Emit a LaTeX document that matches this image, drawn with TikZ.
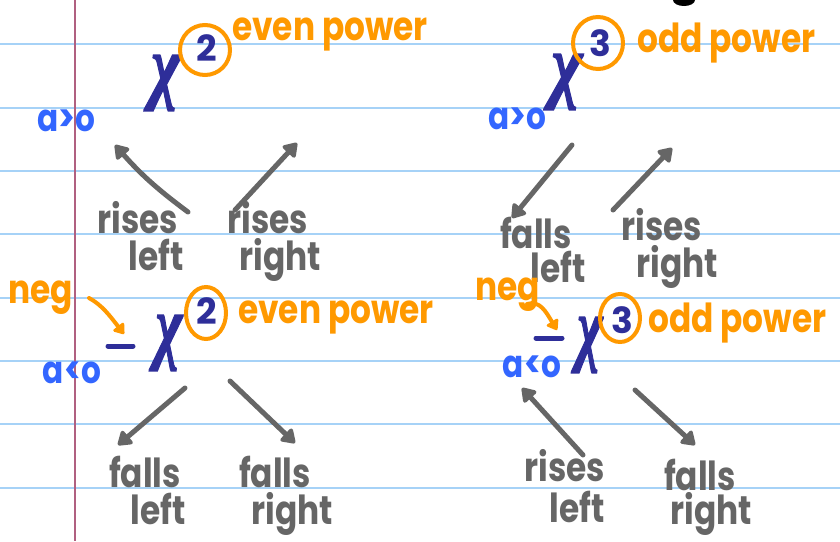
\documentclass[tikz,border=0pt]{standalone}
\usepackage{graphicx}
\usepackage{fontspec}
\setmainfont{Poppins}
\newfontfamily\chifont[FakeBold=1.5]{Liberation Serif}
\usetikzlibrary{arrows.meta,shapes.geometric}
\definecolor{rulecol}{RGB}{166,210,247}
\definecolor{margincol}{RGB}{176,96,128}
\definecolor{pen}{RGB}{51,102,255}
\definecolor{navy}{RGB}{46,46,153}
\definecolor{hi}{RGB}{255,153,0}
\definecolor{ink}{RGB}{102,102,102}
\newcommand{\narrow}[1]{\scalebox{0.82}[1]{#1}}
\newcommand{\tallchi}[1]{\scalebox{#1}[1.3]{\chifont\bfseries\itshape χ}}
\begin{document}
\begin{tikzpicture}[x=1pt,y=-1pt,
  word/.style={inner sep=0pt,anchor=base,text=ink,font=\fontsize{40}{40}\selectfont\bfseries},
  cond/.style={inner sep=0pt,text=pen,font=\fontsize{38}{38}\selectfont\bfseries},
  pow/.style={inner sep=0pt,anchor=base west,text=hi,font=\fontsize{40}{40}\selectfont\bfseries},
  note/.style={inner sep=0pt,anchor=base west,text=hi,font=\fontsize{40}{40}\selectfont\bfseries},
  var/.style={inner sep=0pt,text=navy,font=\fontsize{64}{64}\selectfont},
  ring/.style={ellipse,draw=hi,line width=4pt,inner sep=0pt},
  digit/.style={inner sep=0pt,text=navy,font=\fontsize{36}{36}\selectfont\bfseries},
  minus/.style={draw=navy,line width=5pt,line cap=round},
  trend/.style={draw=ink,line width=5pt,line cap=round,
    -{Triangle[length=15pt,width=19pt,round]}},
  hint/.style={draw=hi,line width=4pt,line cap=round,
    -{Triangle[length=11pt,width=15pt,round]}},
]
\useasboundingbox (0,0) rectangle (840,541);
\fill[white] (0,0) rectangle (840,541);

% ruled paper
\foreach \y in {44,108,171,234,298,361,424,488}
  \draw[rulecol,line width=2pt] (0,\y) -- (840,\y);
\draw[margincol,line width=2pt] (75,0) -- (75,541);
\fill[black] (684,0) ellipse [x radius=11pt, y radius=6pt];

% ---------- a>0, x^2 ----------
\node[cond] (aTL) at (66,121) {\narrow{a>o}};
\node[var] (xTL) at (166,83) {\tallchi{1}};
\node[ring,minimum width=50pt,minimum height=50pt] (rTL) at (205,50) {};
\node[digit] (dTL) at (207,48) {2};
\node[pow] (pTL) at (232,40) {\narrow{even power}};
\node[word] (wTL1) at (138,233) {\narrow{rises}};
\node[word] (wTL2) at (156,270) {\narrow{left}};
\node[word] (wTL3) at (268,233) {\narrow{rises}};
\node[word] (wTL4) at (280,270) {\narrow{right}};
\coordinate (tTL1) at (188,212); \coordinate (hTL1) at (115,145);
\coordinate (tTL2) at (235,210); \coordinate (hTL2) at (297,143);
\draw[trend] (tTL1) to[bend left=6] (hTL1);
\draw[trend] (tTL2) -- (hTL2);

% ---------- a>0, x^3 ----------
\node[cond] (aTR) at (517,119) {\narrow{a>o}};
\node[var] (xTR) at (567,82) {\tallchi{1.05}};
\node[ring,minimum width=50pt,minimum height=52pt] (rTR) at (598,43) {};
\node[digit] (dTR) at (600,43) {3};
\node[pow] (pTR) at (637,52) {\narrow{odd power}};
\node[word] (wTR1) at (536,248) {\narrow{falls}};
\node[word] (wTR2) at (558,282) {\narrow{left}};
\node[word] (wTR3) at (662,240) {\narrow{rises}};
\node[word] (wTR4) at (677,277) {\narrow{right}};
\coordinate (tTR1) at (572,145); \coordinate (hTR1) at (512,218);
\coordinate (tTR2) at (613,210); \coordinate (hTR2) at (672,148);
\draw[trend] (tTR1) -- (hTR1);
\draw[trend] (tTR2) -- (hTR2);

% ---------- a<0, x^2 ----------
\node[note] (nBL) at (8,303) {\narrow{neg}};
\draw[minus] (108,346) coordinate (mBLa) -- (133,346) coordinate (mBLb);
\coordinate (tBL0) at (89,298); \coordinate (hBL0) at (124,334);
\draw[hint] (tBL0) .. controls (102,305) and (110,316) .. (hBL0);
\node[cond] (aBL) at (72,373) {\narrow{a<o}};
\node[var] (xBL) at (169,343) {\tallchi{0.9}};
\node[ring,minimum width=40pt,minimum height=52pt] (rBL) at (206,313) {};
\node[digit] (dBL) at (207,311) {2};
\node[pow] (pBL) at (238,323) {\narrow{even power}};
\node[word] (wBL1) at (145,487) {\narrow{falls}};
\node[word] (wBL2) at (158,524) {\narrow{left}};
\node[word] (wBL3) at (275,487) {\narrow{falls}};
\node[word] (wBL4) at (292,524) {\narrow{right}};
\coordinate (tBL1) at (185,388); \coordinate (hBL1) at (118,445);
\coordinate (tBL2) at (230,381); \coordinate (hBL2) at (295,443);
\draw[trend] (tBL1) -- (hBL1);
\draw[trend] (tBL2) -- (hBL2);

% ---------- a<0, x^3 ----------
\node[note] (nBR) at (475,300) {\narrow{neg}};
\draw[minus] (536,338) coordinate (mBRa) -- (562,338) coordinate (mBRb);
\coordinate (tBR0) at (527,304); \coordinate (hBR0) at (557,330);
\draw[hint] (tBR0) .. controls (540,300) and (546,312) .. (hBR0);
\node[cond] (aBR) at (532,367) {\narrow{a<o}};
\node[var] (xBR) at (590,345) {\tallchi{0.85}};
\node[ring,minimum width=40pt,minimum height=48pt] (rBR) at (620,318) {};
\node[digit] (dBR) at (622,320) {3};
\node[pow] (pBR) at (648,332) {\narrow{odd power}};
\node[word] (wBR1) at (565,481) {\narrow{rises}};
\node[word] (wBR2) at (577,522) {\narrow{left}};
\node[word] (wBR3) at (700,490) {\narrow{falls}};
\node[word] (wBR4) at (711,524) {\narrow{right}};
\coordinate (tBR1) at (583,455); \coordinate (hBR1) at (522,388);
\coordinate (tBR2) at (635,390); \coordinate (hBR2) at (695,445);
\draw[trend] (tBR1) -- (hBR1);
\draw[trend] (tBR2) -- (hBR2);
\end{tikzpicture}
\end{document}
